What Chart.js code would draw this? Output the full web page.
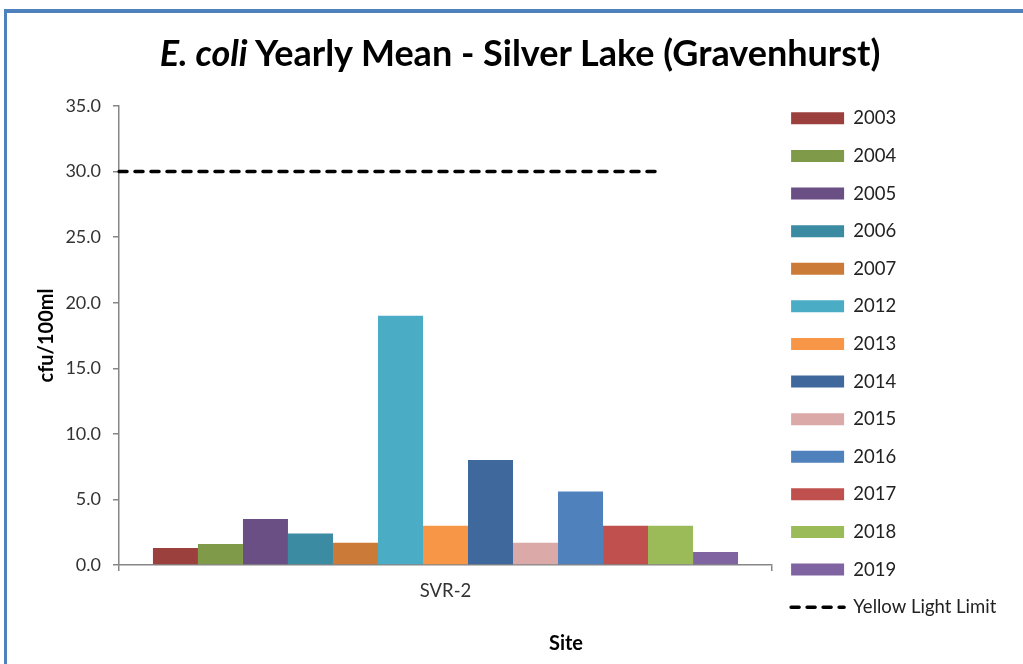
<!DOCTYPE html>
<html>
<head>
<meta charset="utf-8">
<script src="https://cdn.jsdelivr.net/npm/chart.js@4.4.1/dist/chart.umd.min.js"></script>
<style>
  html, body { margin: 0; padding: 0; background: #fff; }
  #wrap { position: relative; width: 1023px; height: 664px; overflow: hidden; }
  #frame { position: absolute; left: 4px; top: 9px; width: 1100px; height: 800px;
    border-left: 3px solid #4f81bd; border-top: 4px solid #4f81bd; }
  #title { position: absolute; left: 0; width: 1040px; top: 31px; text-align: center;
    font: bold 36px/1.2 Lato; color: #000; white-space: nowrap; }
  #xtitle { position: absolute; left: 466px; width: 200px; top: 630px; text-align: center;
    font: bold 20px/1.2 Lato; color: #000; }
  canvas { position: absolute; left: 0; top: 0; }
</style>
</head>
<body>
<div id="wrap">
  <div id="frame"></div>
  <canvas id="myCanvas" width="1023" height="664"></canvas>
  <div id="title"><i>E. coli</i> Yearly Mean - Silver Lake (Gravenhurst)</div>
  <div id="xtitle">Site</div>
</div>
<script>
const sites = ['SVR-2'];

const years = ['2003', '2004', '2005', '2006', '2007', '2012', '2013',
  '2014', '2015', '2016', '2017', '2018', '2019'];

const means = [1.3, 1.6, 3.5, 2.4, 1.7, 19.0, 3.0, 8.0, 1.7, 5.6, 3.0, 3.0, 1.0];

const yearColors = ['#9c403e', '#7f9a48', '#6a4f85', '#3b8ba3', '#cc7a37', '#4bacc6',
  '#f79646', '#3f699c', '#dba9a8', '#4f81bd', '#c0504d', '#9bbb59', '#8064a2'];

const limitLabel = 'Yellow Light Limit';
const limitValue = 30;
// start / end of the limit line, in category units (-0.5 is the left edge of the axis)
const limitSpan = [-0.5, 0.332];

Chart.defaults.font.family = 'Lato';
Chart.defaults.color = '#262626';

const legendFont = 18.5;
const legendPad = 19.1;
const legendBox = 53;
const plotRight = 772;

const datasets = years.map((yr, i) => ({
  label: yr,
  data: [means[i]],
  backgroundColor: yearColors[i],
  borderWidth: 0,
  categoryPercentage: 0.896,
  barPercentage: 1.0
}));

datasets.push({
  type: 'line',
  label: limitLabel,
  parsing: false,
  data: limitSpan.map(x => ({ x: x, y: limitValue })),
  borderColor: '#000',
  borderWidth: 3.5,
  borderDash: [8, 8],
  borderCapStyle: 'round',
  pointRadius: 0,
  fill: false
});

const defaultLabels = Chart.defaults.plugins.legend.labels.generateLabels;

const config = {
  type: 'bar',
  data: {
    labels: sites,
    datasets: datasets
  },
  options: {
    responsive: false,
    animation: false,
    layout: { padding: { left: 17, right: 20, top: 90, bottom: 15 } },
    plugins: {
      tooltip: { enabled: false },
      // empty title only keeps room above the plot; the heading is the html one
      title: { display: true, text: '', padding: 0, font: { size: 16, lineHeight: 1 } },
      legend: {
        position: 'right',
        align: 'start',
        labels: {
          usePointStyle: true,
          pointStyleWidth: legendBox,
          boxHeight: 12,
          padding: legendPad,
          font: { size: legendFont },
          color: '#222',
          generateLabels: chart => defaultLabels(chart).map(item => {
            const ds = chart.data.datasets[item.datasetIndex];
            if (ds.type === 'line') {
              item.pointStyle = 'line';
              item.lineWidth = 3.5;
              item.lineDash = [8, 8];
              item.lineCap = 'round';
              item.strokeStyle = '#000';
            } else {
              item.pointStyle = 'rect';
              item.lineWidth = 0;
              item.fillStyle = ds.backgroundColor;
            }
            return item;
          })
        }
      }
    },
    scales: {
      x: {
        type: 'category',
        offset: true,
        grid: { offset: true, drawOnChartArea: false, tickLength: 6, color: '#868686', lineWidth: 1.5 },
        border: { color: '#868686', width: 1.5 },
        ticks: { font: { size: 18.5 }, color: '#333', padding: 9 },
        afterFit: s => { s.height = 84; }
      },
      y: {
        min: 0,
        max: 35,
        ticks: { stepSize: 5, callback: v => v.toFixed(1), font: { size: 18 }, color: '#333', padding: 12 },
        grid: { drawOnChartArea: false, tickLength: 6, color: '#868686', lineWidth: 1.5 },
        border: { color: '#868686', width: 1.5 },
        title: { display: true, text: 'cfu/100ml', font: { size: 20, weight: 'bold' }, color: '#000',
          padding: { top: 18, bottom: 10 } },
        afterFit: s => { s.width = 102; }
      }
    }
  }
};

const myChart = new Chart(document.getElementById('myCanvas'), config);

// once the legend knows its width, set the right padding so the plot ends at plotRight
myChart.options.layout.padding.right = 1023 - plotRight - myChart.legend.width;
myChart.update();
</script>
</body>
</html>
